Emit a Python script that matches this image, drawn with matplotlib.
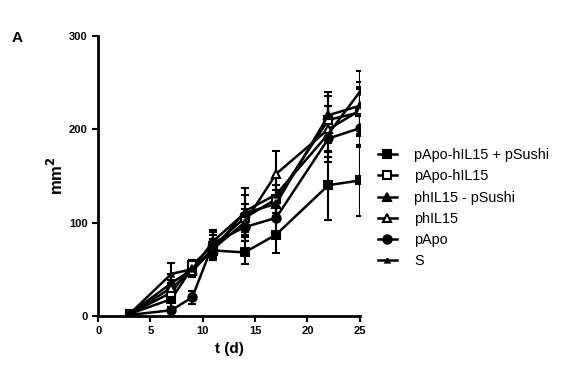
import matplotlib
matplotlib.use("Agg")
import matplotlib.pyplot as plt
from matplotlib.lines import Line2D

plt.rcParams['font.family'] = ['Liberation Sans', 'DejaVu Sans']

days = [3, 7, 9, 11, 14, 17, 22, 25]
labels = ["pApo-hIL15 + pSushi", "pApo-hIL15", "phIL15 - pSushi", "phIL15", "pApo", "S"]
sq_filled = [2, 18, 52, 70, 68, 87, 140, 145]
sq_filled_err = [1, 8, 5, 10, 12, 20, 37, 38]
sq_open = [2, 25, 55, 75, 105, 125, 210, 218]
sq_open_err = [1, 10, 5, 12, 15, 15, 25, 25]
tri_filled = [2, 35, 50, 80, 110, 120, 215, 225]
tri_filled_err = [1, 10, 6, 12, 20, 15, 25, 25]
tri_open = [2, 30, 48, 72, 100, 152, 200, 220]
tri_open_err = [1, 8, 6, 10, 15, 25, 25, 25]
circ = [1, 6, 20, 78, 95, 105, 190, 201]
circ_err = [1, 3, 7, 12, 15, 18, 20, 20]
s_vals = [2, 45, 50, 70, 112, 130, 195, 240]
s_err = [1, 12, 6, 10, 25, 20, 30, 22]

series = [sq_filled, sq_open, tri_filled, tri_open, circ, s_vals]
errs = [sq_filled_err, sq_open_err, tri_filled_err, tri_open_err, circ_err, s_err]
markers = ['s', 's', '^', '^', 'o', '^']
faces = ['black', 'white', 'black', 'white', 'black', 'black']
sizes = [6, 6, 6, 6, 6, 3]

fig = plt.figure(figsize=(5.64, 3.81), dpi=100)
ax = fig.add_axes([0.174, 0.171, 0.464, 0.735])
handles = []
for y, e, m, fc, ms, lab in zip(series, errs, markers, faces, sizes, labels):
    ax.errorbar(days, y, yerr=e, color='black', lw=1.8, marker=m, ms=ms,
                mfc=fc, mec='black', mew=1.5, capsize=3, capthick=1.5,
                elinewidth=1.5)
    handles.append(Line2D([], [], color='black', lw=1.8, marker=m, ms=ms,
                          mfc=fc, mec='black', mew=1.5, label=lab))

ax.set_xlim(0, 25)
ax.set_ylim(0, 300)
ax.set_xticks([0, 5, 10, 15, 20, 25])
ax.set_yticks([0, 100, 200, 300])
ax.spines['top'].set_visible(False)
ax.spines['right'].set_visible(False)
ax.spines['left'].set_linewidth(2)
ax.spines['bottom'].set_linewidth(2)
ax.tick_params(width=1.5, length=4, labelsize=8)
for t in ax.get_xticklabels() + ax.get_yticklabels():
    t.set_fontweight('bold')
ax.set_xlabel("t (d)", fontsize=11, fontweight='bold')
ax.set_ylabel("mm$^\\mathbf{2}$", fontsize=12, fontweight='bold', labelpad=2)

leg = ax.legend(handles=handles, loc='upper left', bbox_to_anchor=(1.02, 0.645),
                frameon=False, fontsize=10.4, handlelength=1.3, handletextpad=1.2,
                labelspacing=0.5)
fig.text(0.02, 0.89, "A", fontsize=11, fontweight='bold')

fig.savefig("out.png", dpi=100)
